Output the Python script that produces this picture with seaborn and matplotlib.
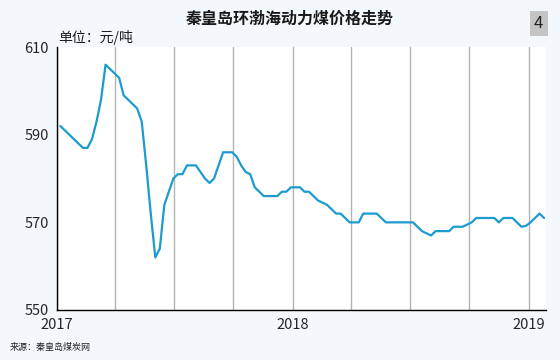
import pandas as pd
import numpy as np
import matplotlib
matplotlib.use('Agg')
import matplotlib.pyplot as plt
import matplotlib.dates as mdates
import seaborn as sns

# ============================================================
# DATA  (weekly price)
# ============================================================

START_DATE = '2017-01-06'

PRICES = [
    592, 591, 590, 589, 588, 587, 587, 589, 593, 598,
    606, 605, 604, 603, 599, 598, 597, 596, 593, 583,
    572, 562, 564, 574, 577, 580, 581, 581, 583, 583,
    583, 581.5, 580, 579, 580, 583, 586, 586, 586, 585,
    583, 581.5, 581, 578, 577, 576, 576, 576, 576, 577,
    577, 578, 578, 578, 577, 577, 576, 575, 574.5, 574,
    573, 572, 572, 571, 570, 570, 570, 572, 572, 572,
    572, 571, 570, 570, 570, 570, 570, 570, 570, 569,
    568, 567.5, 567, 568, 568, 568, 568, 569, 569, 569,
    569.5, 570, 571, 571, 571, 571, 571, 570, 571, 571,
    571, 570, 569, 569.2, 570, 571, 572, 571,
]

Y_TICKS = [550, 570, 590, 610]
YEAR_TICKS = ['2017-01-01', '2018-01-01', '2019-01-01']
YEAR_LABELS = ['2017', '2018', '2019']

TITLE = '秦皇岛环渤海动力煤价格走势'
UNIT = '单位：元/吨'
SOURCE = '来源：秦皇岛煤炭网'
PAGE_NO = '4'

df = pd.DataFrame({
    'date':  pd.date_range(START_DATE, periods=len(PRICES), freq='7D'),
    'price': PRICES,
})

# ============================================================
# STYLE
# ============================================================

sns.set_style('white')
plt.rcParams['font.family'] = ['Noto Sans CJK SC', 'DejaVu Sans']

BG = '#f3f8fc'
LINE = '#1b9bd0'
GRID = '#b4b4b4'

fig = plt.figure(figsize=(5.6, 3.6), dpi=100, facecolor=BG)
ax = fig.add_axes([0.102, 0.139, 0.873, 0.730])
ax.set_facecolor('white')

sns.lineplot(data=df, x='date', y='price', ax=ax, color=LINE, linewidth=1.6)

# axes limits / ticks
ax.set_xlim(pd.Timestamp('2017-01-01'), pd.Timestamp('2019-01-28'))
ax.set_ylim(550, 610)
ax.set_yticks(Y_TICKS)
ax.set_xticks(pd.to_datetime(YEAR_TICKS))
ax.set_xticklabels(YEAR_LABELS)
ax.xaxis.set_minor_locator(mdates.MonthLocator(bymonth=[4, 7, 10]))

# quarterly vertical gridlines (year boundaries + quarters)
ax.grid(False)
ax.grid(True, axis='x', which='both', color=GRID, linewidth=1.0)
ax.set_axisbelow(True)
ax.tick_params(axis='x', which='minor', length=0)
ax.tick_params(axis='x', which='major', length=4, width=1, color='black',
               labelsize=10.5, pad=2)
ax.tick_params(axis='y', length=4, width=1, color='black', labelsize=10.5, pad=2)
ax.set_xlabel('')
ax.set_ylabel('')

for side in ['top', 'right']:
    ax.spines[side].set_visible(False)
for side in ['left', 'bottom']:
    ax.spines[side].set_color('black')
    ax.spines[side].set_linewidth(1.0)

# ============================================================
# TEXT
# ============================================================

fig.text(0.518, 0.948, TITLE, ha='center', va='center', fontsize=11.5,
         fontweight='bold', color='#1a1a1a')
fig.text(0.104, 0.895, UNIT, ha='left', va='center', fontsize=10, color='#1a1a1a')
fig.text(0.962, 0.935, PAGE_NO, ha='center', va='center', fontsize=12,
         color='#222222',
         bbox=dict(boxstyle='square,pad=0.25', facecolor='#c4c4c4', edgecolor='none'))
fig.text(0.018, 0.035, SOURCE, ha='left', va='center', fontsize=6.5, color='#222222')

fig.savefig('out.png', dpi=100, facecolor=BG)
